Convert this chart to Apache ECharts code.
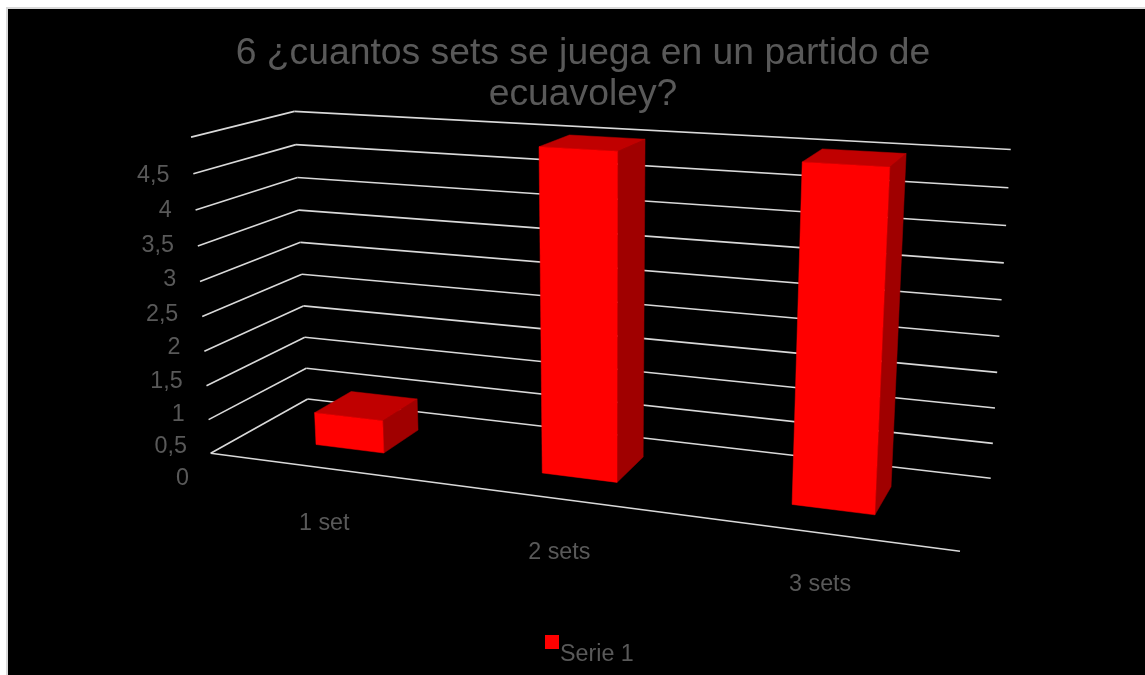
<!DOCTYPE html>
<html><head><meta charset="utf-8">
<style>
html,body{margin:0;padding:0;background:#fff;width:1145px;height:675px;overflow:hidden}
#frame{position:absolute;left:6px;top:7px;width:1145px;height:675px;background:#000;border:2px solid #d9d9d9;box-sizing:border-box}
#chart{position:absolute;left:0;top:0;width:1145px;height:675px}
</style>
<script src="https://cdn.jsdelivr.net/npm/echarts@6/dist/echarts.min.js"></script>
</head><body><div id="frame"></div><div id="chart"></div>
<script>
var titleText = '6 ¿cuantos sets se juega en un partido de\necuavoley?';
var seriesName = 'Serie 1';
var categories = ['1 set', '2 sets', '3 sets'];
var values = [0.48, 4.5, 4.5];
var yTicks = [0, 0.5, 1, 1.5, 2, 2.5, 3, 3.5, 4, 4.5];

// Calibration of the 3D view: where the plot box corners fall on the page.
var FLOOR = {fl:[210.7,453.3], fr:[960,551.3], br:[990.7,478.3], bl:[307.7,399]};
var TOP = {fl:[190.7,137.7], br:[1010.7,149], bl:[294.7,111.3]};
var DEPTH = [0.31, 0.71], GAP = 0.155;
var TEXT = '#595959', FONT = '23.3px "Liberation Sans", Arial, sans-serif';

function solve(M, r) {
  var n = r.length, A = M.map(function (row, i) { return row.concat(r[i]); });
  for (var i = 0; i < n; i++) {
    var p = i;
    for (var k = i + 1; k < n; k++) if (Math.abs(A[k][i]) > Math.abs(A[p][i])) p = k;
    var t = A[i]; A[i] = A[p]; A[p] = t;
    for (var k2 = 0; k2 < n; k2++) {
      if (k2 === i) continue;
      var f = A[k2][i] / A[i][i];
      for (var j = i; j <= n; j++) A[k2][j] -= f * A[i][j];
    }
  }
  return A.map(function (row, i) { return row[n] / row[i]; });
}
// floor homography: (u,w) -> page
var fc = [[0,0,FLOOR.fl],[1,0,FLOOR.fr],[1,1,FLOOR.br],[0,1,FLOOR.bl]], M8 = [], R8 = [];
fc.forEach(function (c) {
  var u=c[0], w=c[1], X=c[2][0], Y=c[2][1];
  M8.push([1,u,w,0,0,0,-X*u,-X*w]); R8.push(X);
  M8.push([0,0,0,1,u,w,-Y*u,-Y*w]); R8.push(Y);
});
var h = solve(M8, R8);
// height column fitted by least squares to the three visible top corners
var tc = [[0,0,TOP.fl],[1,1,TOP.br],[0,1,TOP.bl]], N=[[0,0,0],[0,0,0],[0,0,0]], Nr=[0,0,0];
function addEq(row, rhs){ for (var i=0;i<3;i++){ Nr[i]+=row[i]*rhs; for (var j=0;j<3;j++) N[i][j]+=row[i]*row[j]; } }
tc.forEach(function (c) {
  var u=c[0], w=c[1], X=c[2][0], Y=c[2][1], D=1+h[6]*u+h[7]*w;
  addEq([1,0,-X], X*D-(h[0]+h[1]*u+h[2]*w));
  addEq([0,1,-Y], Y*D-(h[3]+h[4]*u+h[5]*w));
});
var vc = solve(N, Nr);
function project(u, v, w) {
  var d = 1+h[6]*u+h[7]*w+vc[2]*v;
  return [(h[0]+h[1]*u+h[2]*w+vc[0]*v)/d, (h[3]+h[4]*u+h[5]*w+vc[1]*v)/d];
}
function poly(points, fill) {
  return {type:'polygon', shape:{points:points}, style:{fill:fill, stroke:fill, lineWidth:0.5}};
}
function line(a, b) {
  return {type:'line', shape:{x1:a[0],y1:a[1],x2:b[0],y2:b[1]}, style:{stroke:'#d9d9d9', lineWidth:1.6, fill:null}};
}
function label(text, x, y, align) {
  return {type:'text', style:{text:text, x:x, y:y, fill:TEXT, font:FONT, textAlign:align, textVerticalAlign:'middle'}};
}
function normV(api, cs, val) { return (cs.y + cs.height - api.coord([0, val])[1]) / cs.height; }

function renderTick(params, api) {
  var cs = params.coordSys, val = api.value(1), v = normV(api, cs, val);
  var a = project(0,v,0), b = project(0,v,1), c = project(1,v,1);
  var kids = [line(a,b), line(b,c)];
  if (val === 0) kids.push(line(a, project(1,0,0)));
  var text = String(val).replace('.', ',');
  var ly = a[1] + 25.7 + 12.6 * v;
  kids.push(label(text, a[0] - 21.7, ly, 'right'));
  return {type:'group', children:kids};
}
function renderBar(params, api) {
  var cs = params.coordSys, val = api.value(1), v = normV(api, cs, val);
  var cx = api.coord([api.value(0), 0])[0], band = api.size([1, 0])[0];
  var u0 = (cx - band * GAP - cs.x) / cs.width, u1 = (cx + band * GAP - cs.x) / cs.width;
  var w0 = DEPTH[0], w1 = DEPTH[1];
  var fl0=project(u0,0,w0), fr0=project(u1,0,w0), br0=project(u1,0,w1);
  var fl1=project(u0,v,w0), fr1=project(u1,v,w0), br1=project(u1,v,w1), bl1=project(u0,v,w1);
  var um = (u0 + u1) / 2, e = project(um, 0, 0);
  return {type:'group', children:[
    poly([fr0,br0,br1,fr1], '#a00000'),
    poly([fl1,fr1,br1,bl1], '#c00000'),
    poly([fl0,fr0,fr1,fl1], '#ff0000'),
    label(categories[params.dataIndex], e[0] + 4.5 - 3 * um, e[1] + 57 - 6 * um, 'center')
  ]};
}

var chart = echarts.init(document.getElementById('chart'), null, {renderer:'canvas'});
chart.setOption({
  backgroundColor:'transparent',
  animation:false,
  title:{text:titleText, left:578, top:28, textAlign:'center',
    textStyle:{color:TEXT, fontSize:37.3, fontWeight:'normal', fontFamily:'"Liberation Sans", Arial, sans-serif', lineHeight:41}},
  legend:{data:[seriesName], left:540, top:630, itemWidth:14, itemHeight:40, icon:'path://M0 0H14V14H0Z M0 40L0 40',
    textStyle:{color:TEXT, fontSize:23.3, fontFamily:'"Liberation Sans", Arial, sans-serif', padding:[0,0,0,-4]}},
  grid:{left:170, right:100, top:173, bottom:199},
  xAxis:{type:'category', data:categories, show:false},
  yAxis:{type:'value', min:0, max:4.5, interval:0.5, show:false},
  series:[
    {type:'custom', name:'ticks', silent:true, coordinateSystem:'cartesian2d', renderItem:renderTick, clip:false,
      data:yTicks.map(function (t) { return [0, t]; }), encode:{x:0,y:1}, z:1},
    {type:'custom', name:seriesName, coordinateSystem:'cartesian2d', renderItem:renderBar, clip:false,
      itemStyle:{color:'#ff0000'},
      data:values.map(function (v, i) { return [i, v]; }), encode:{x:0,y:1}, z:2}
  ]
});
</script></body></html>
